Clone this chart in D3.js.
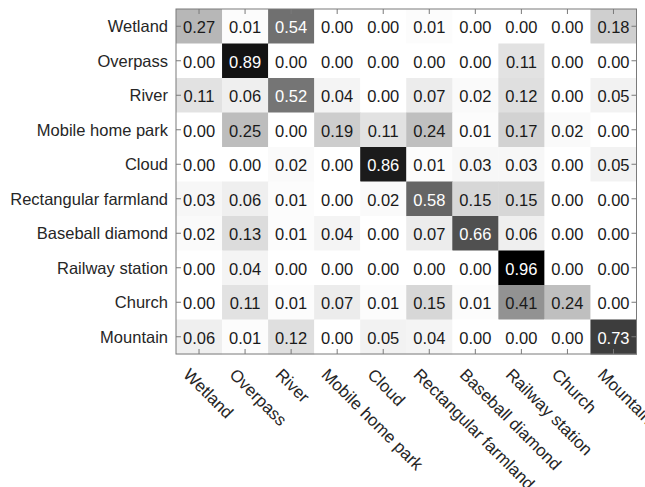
<!DOCTYPE html>
<html>
<head>
<meta charset="utf-8">
<script src="https://cdn.jsdelivr.net/npm/d3@7"></script>
<style>
  html, body { margin: 0; padding: 0; background: #fff; overflow: hidden; }
  svg { display: block; font-family: "Liberation Sans", Arial, sans-serif; }
</style>
</head>
<body>
<svg id="chart" width="645" height="487"></svg>
<script>
// Class names (rows = true class, columns = predicted class)
const classes = ["Wetland", "Overpass", "River", "Mobile home park", "Cloud",
  "Rectangular farmland", "Baseball diamond", "Railway station", "Church", "Mountain"];

// Confusion matrix rows
const wetland      = [0.27, 0.01, 0.54, 0.00, 0.00, 0.01, 0.00, 0.00, 0.00, 0.18];
const overpass     = [0.00, 0.89, 0.00, 0.00, 0.00, 0.00, 0.00, 0.11, 0.00, 0.00];
const river        = [0.11, 0.06, 0.52, 0.04, 0.00, 0.07, 0.02, 0.12, 0.00, 0.05];
const mobileHome   = [0.00, 0.25, 0.00, 0.19, 0.11, 0.24, 0.01, 0.17, 0.02, 0.00];
const cloud        = [0.00, 0.00, 0.02, 0.00, 0.86, 0.01, 0.03, 0.03, 0.00, 0.05];
const farmland     = [0.03, 0.06, 0.01, 0.00, 0.02, 0.58, 0.15, 0.15, 0.00, 0.00];
const baseball     = [0.02, 0.13, 0.01, 0.04, 0.00, 0.07, 0.66, 0.06, 0.00, 0.00];
const railway      = [0.00, 0.04, 0.00, 0.00, 0.00, 0.00, 0.00, 0.96, 0.00, 0.00];
const church       = [0.00, 0.11, 0.01, 0.07, 0.01, 0.15, 0.01, 0.41, 0.24, 0.00];
const mountain     = [0.06, 0.01, 0.12, 0.00, 0.05, 0.04, 0.00, 0.00, 0.00, 0.73];

const matrix = [wetland, overpass, river, mobileHome, cloud, farmland, baseball, railway, church, mountain];

const svg = d3.select("#chart");
const plotLeft = 176, plotRight = 636.5, plotTop = 9, plotBottom = 354;

const x = d3.scaleBand().domain(classes).range([plotLeft, plotRight]).padding(0);
const y = d3.scaleBand().domain(classes).range([plotTop, plotBottom]).padding(0);

const maxVal = d3.max(matrix.flat());
const shade = d3.scaleLinear().domain([0, maxVal]).range([255, 0]);
const fillFor = v => { const g = Math.round(shade(v)); return `rgb(${g},${g},${g})`; };

const cells = [];
matrix.forEach((row, i) => row.forEach((v, j) => cells.push({ r: classes[i], c: classes[j], v })));

// Cells
svg.append("g").selectAll("rect").data(cells).join("rect")
  .attr("x", d => x(d.c))
  .attr("y", d => y(d.r))
  .attr("width", x.bandwidth() + 0.5)
  .attr("height", y.bandwidth() + 0.5)
  .attr("fill", d => fillFor(d.v));

// Cell values
svg.append("g").selectAll("text").data(cells).join("text")
  .attr("x", d => x(d.c) + x.bandwidth() / 2)
  .attr("y", d => y(d.r) + y.bandwidth() / 2 + 1)
  .attr("text-anchor", "middle")
  .attr("dominant-baseline", "central")
  .attr("font-size", 16.5)
  .attr("fill", d => d.v > 0.5 ? "#ffffff" : "#1a1a1a")
  .text(d => d.v.toFixed(2));

// Axes with inward ticks on all four sides
const axisColor = "#7a7a7a";
const tickLen = 5;
const styleAxis = g => {
  g.select(".domain").remove();
  g.selectAll(".tick line").attr("stroke", axisColor);
};

svg.append("g").attr("transform", `translate(${plotLeft},0)`)
  .call(d3.axisLeft(y).tickSize(-tickLen).tickPadding(8))
  .call(styleAxis)
  .call(g => g.selectAll(".tick text").attr("font-size", 16.5).attr("fill", "#262626")
    .attr("dy", "0.37em")
    .attr("font-family", "'Liberation Sans', Arial, sans-serif"));

svg.append("g").attr("transform", `translate(${plotRight},0)`)
  .call(d3.axisRight(y).tickSize(-tickLen).tickFormat(""))
  .call(styleAxis);

svg.append("g").attr("transform", `translate(0,${plotTop})`)
  .call(d3.axisTop(x).tickSize(-tickLen).tickFormat(""))
  .call(styleAxis);

svg.append("g").attr("transform", `translate(0,${plotBottom})`)
  .call(d3.axisBottom(x).tickSize(-tickLen).tickFormat(""))
  .call(styleAxis);

// Rotated bottom labels
svg.append("g").selectAll("text").data(classes).join("text")
  .attr("transform", d => `translate(${x(d) + x.bandwidth() / 2 - 8},${plotBottom + 13}) rotate(45)`)
  .attr("text-anchor", "start")
  .attr("dy", "0.72em")
  .attr("font-size", 17)
  .attr("fill", "#262626")
  .text(d => d);

// Box outline
svg.append("rect")
  .attr("x", plotLeft).attr("y", plotTop)
  .attr("width", plotRight - plotLeft).attr("height", plotBottom - plotTop)
  .attr("fill", "none").attr("stroke", axisColor).attr("stroke-width", 1);
</script>
</body>
</html>
